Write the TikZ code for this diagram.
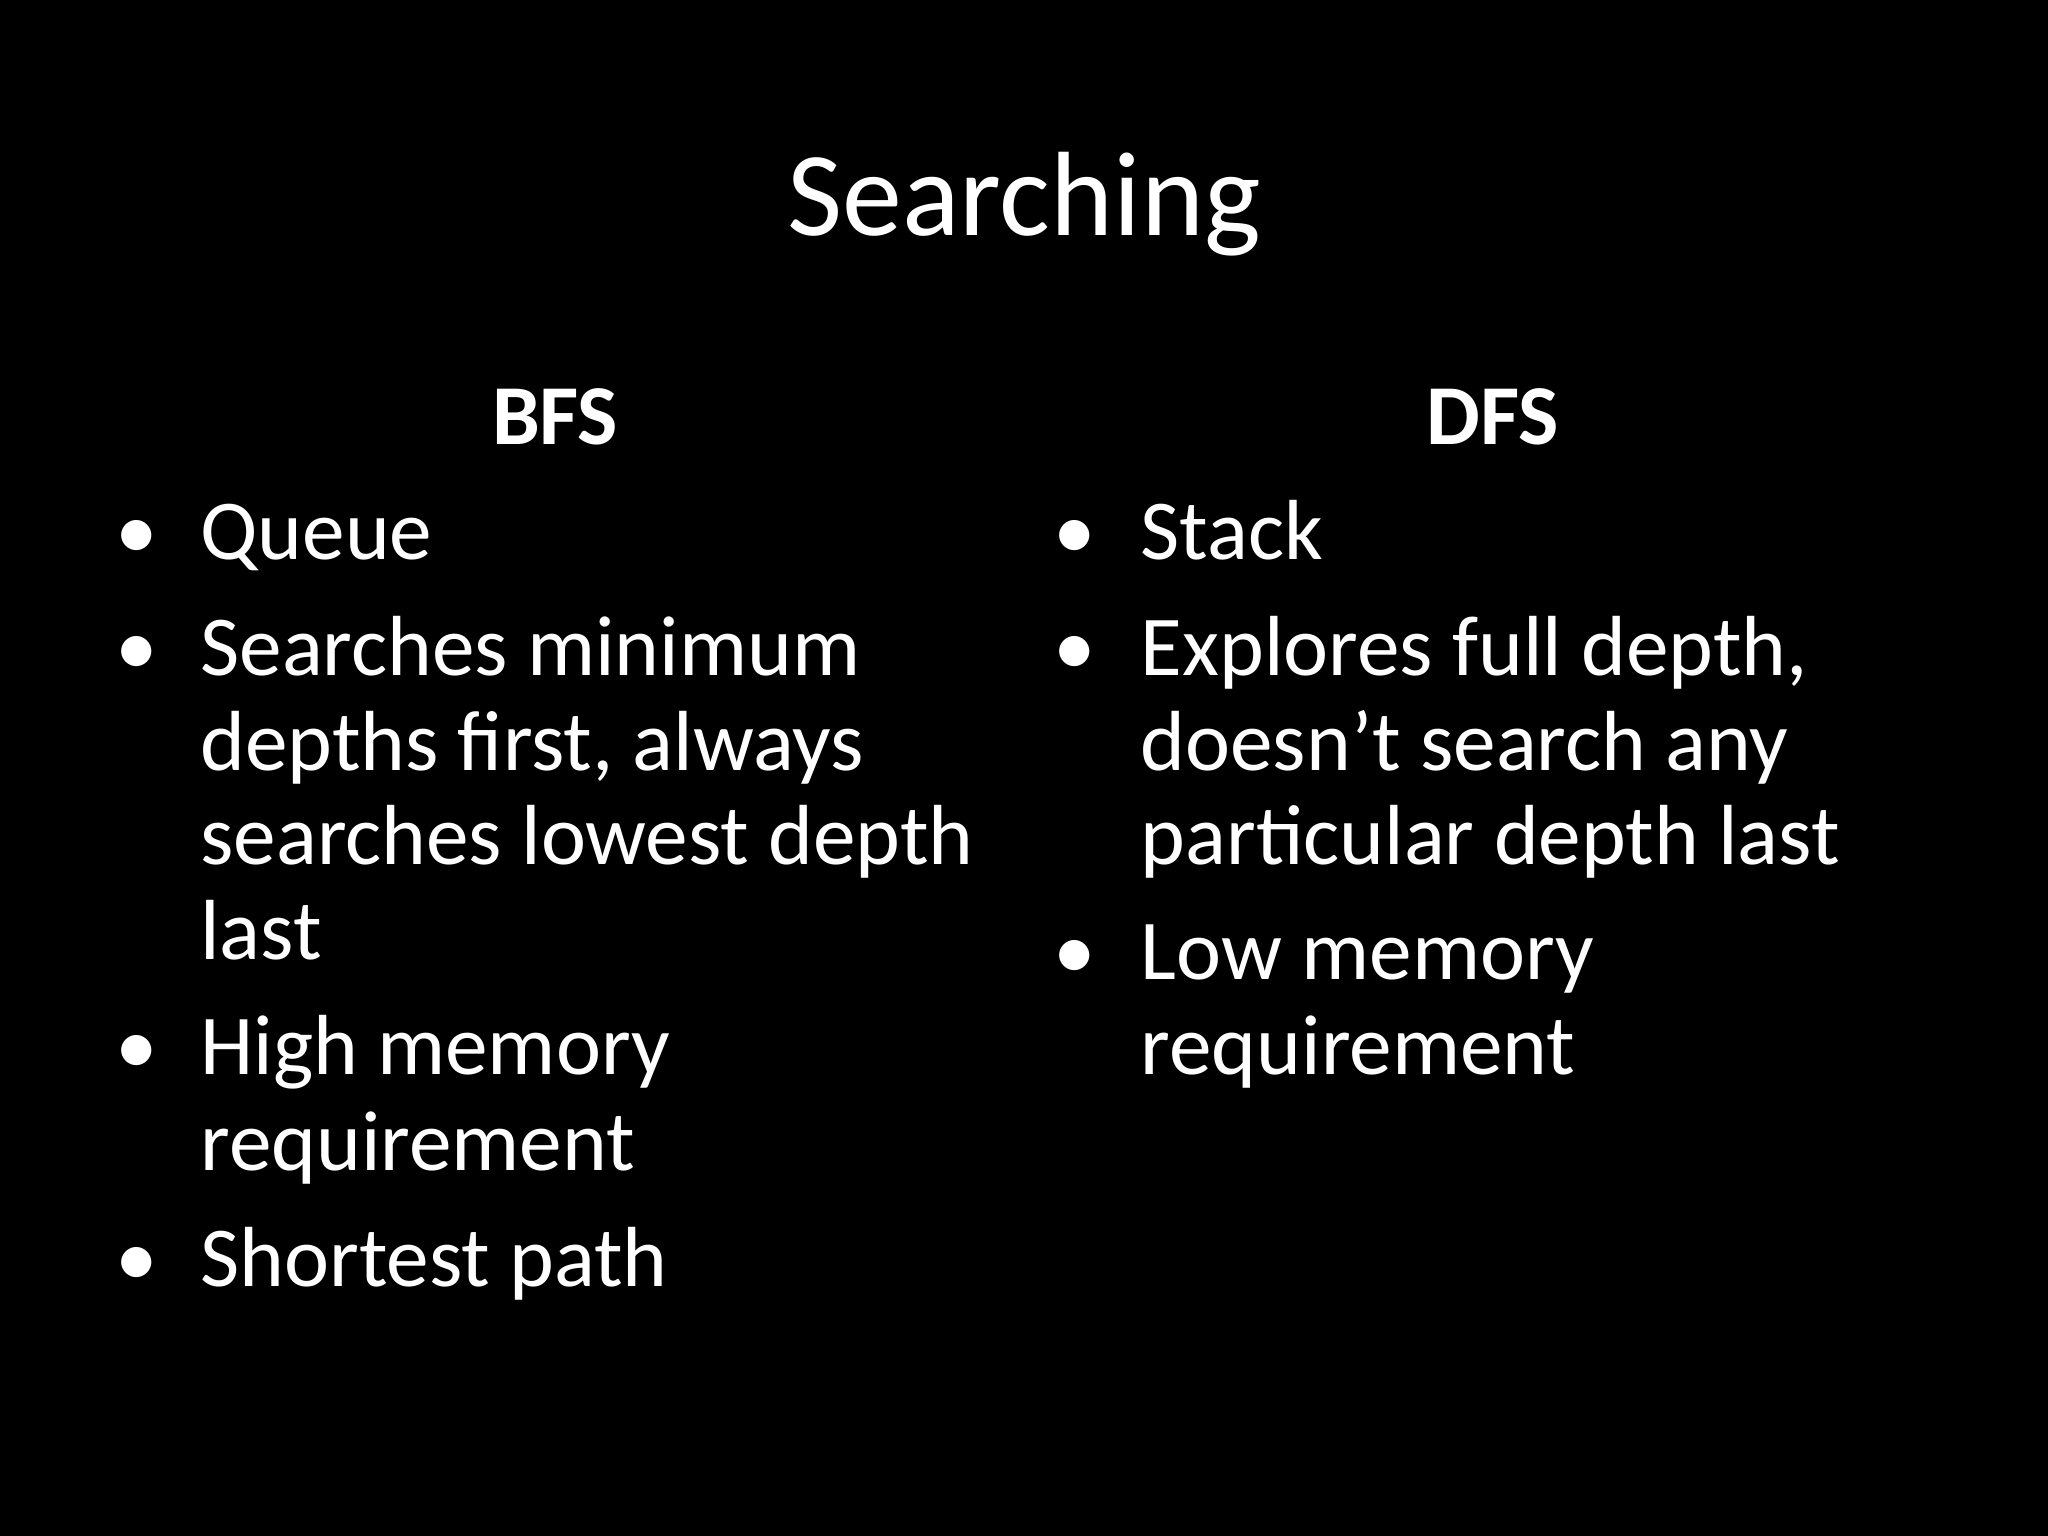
\documentclass[tikz,border=0pt]{standalone}
\usepackage{fontspec}
\setmainfont{Carlito}
\begin{document}
\begin{tikzpicture}[x=0.49pt,y=-0.49pt,
  ln/.style={anchor=base west,inner sep=0,text=white,font=\fontsize{32}{38}\selectfont},
  bl/.style={anchor=base,inner sep=0,text=white,font=\fontsize{32}{38}\selectfont},
  hd/.style={anchor=base,inner sep=0,text=white,font=\fontsize{32}{38}\selectfont\bfseries}]
\fill[black] (0,0) rectangle (1568,1176);
\useasboundingbox (0,0) rectangle (1568,1176);
\node[anchor=base,inner sep=0,text=white,font=\fontsize{45}{54}\selectfont] (title) at (784,180) {Searching};
\node[hd] (bfs) at (425,340) {BFS};
\node[hd] (dfs) at (1143,340) {DFS};
% BFS
\node[bl] (b1) at (105,428) {•};
\node[ln] (t1) at (153,428) {Queue};
\node[bl] (b2) at (105,517) {•};
\node[ln] (t2a) at (153,517) {Searches minimum};
\node[ln] (t2b) at (153,590) {depths first, always};
\node[ln] (t2c) at (153,662) {searches lowest depth};
\node[ln] (t2d) at (153,735) {last};
\node[bl] (b3) at (105,823) {•};
\node[ln] (t3a) at (153,823) {High memory};
\node[ln] (t3b) at (153,896) {requirement};
\node[bl] (b4) at (105,985) {•};
\node[ln] (t4) at (153,985) {Shortest path};
% DFS
\node[bl] (d1) at (823,428) {•};
\node[ln] (s1) at (873,428) {Stack};
\node[bl] (d2) at (823,517) {•};
\node[ln] (s2a) at (873,517) {Explores full depth,};
\node[ln] (s2b) at (873,590) {doesn’t search any};
\node[ln] (s2c) at (873,662) {particular depth last};
\node[bl] (d3) at (823,750) {•};
\node[ln] (s3a) at (873,750) {Low memory};
\node[ln] (s3b) at (873,823) {requirement};
\end{tikzpicture}
\end{document}
